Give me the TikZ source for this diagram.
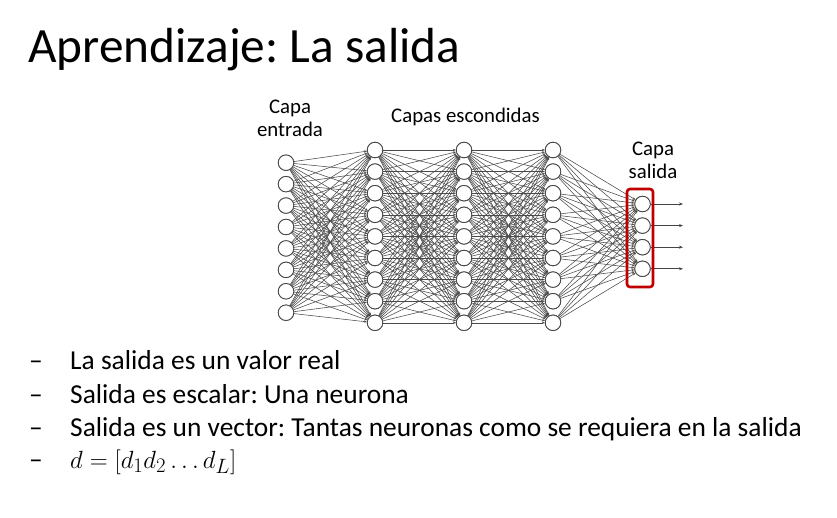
\documentclass[tikz,border=0pt]{standalone}
\usepackage{fontspec}
\setmainfont{Carlito}
\usetikzlibrary{arrows.meta}
\definecolor{boxred}{HTML}{C00000}
\definecolor{wire}{HTML}{4A4A4A}
\definecolor{ring}{HTML}{444444}
\frenchspacing
\begin{document}
\begin{tikzpicture}[x=1pt,y=-1pt,
  neuron/.style={circle,draw=ring,fill=white,line width=0.8pt,minimum size=15.5pt,inner sep=0pt},
  wireline/.style={draw=wire,line width=0.55pt,-{Stealth[length=3pt,width=2.4pt]}},
  outarrow/.style={draw=ring,line width=0.6pt,-{Stealth[length=4pt,width=3pt]}},
  redbox/.style={draw=boxred,line width=2.6pt,rounded corners=3pt,minimum width=26pt,minimum height=98pt,inner sep=0pt},
  lbl/.style={font=\fontsize{20.8}{22.5}\selectfont,align=center,inner sep=0pt},
  bullettext/.style={font=\fontsize{27.4}{30}\selectfont,anchor=base west,inner sep=0pt},
  dashmark/.style={font=\fontsize{27.4}{30}\selectfont,anchor=base west,inner sep=0pt}
]
\useasboundingbox (0,0) rectangle (837,518);
\fill[white] (0,0) rectangle (837,518);

% title
\node[font=\fontsize{49.3}{52}\selectfont,anchor=base west,inner sep=0pt] (title) at (28,63) {Aprendizaje: La salida};

% layers
\foreach \i in {0,...,7} \node[neuron] (a\i) at (286,{162.7+21.43*\i}) {};
\foreach \i in {0,...,8} {
  \node[neuron] (b\i) at (375,{150+21.6*\i}) {};
  \node[neuron] (c\i) at (464,{150+21.6*\i}) {};
  \node[neuron] (d\i) at (553,{150+21.6*\i}) {};
}
\foreach \i in {0,...,3} \node[neuron] (e\i) at (642.5,{204+21.6*\i}) {};

% fully connected wiring between consecutive layers
\foreach \i in {0,...,7} \foreach \j in {0,...,8} \draw[wireline] (a\i) -- (b\j);
\foreach \i in {0,...,8} \foreach \j in {0,...,8} \draw[wireline] (b\i) -- (c\j);
\foreach \i in {0,...,8} \foreach \j in {0,...,8} \draw[wireline] (c\i) -- (d\j);
\foreach \i in {0,...,8} \foreach \j in {0,...,3} \draw[wireline] (d\i) -- (e\j);

% redraw neurons on top of the wires
\foreach \i in {0,...,7} \node[neuron] at (a\i) {};
\foreach \i in {0,...,8} {\node[neuron] at (b\i) {}; \node[neuron] at (c\i) {}; \node[neuron] at (d\i) {};}
\foreach \i in {0,...,3} {
  \node[neuron] at (e\i) {};
  \coordinate (f\i) at (683,{204+21.6*\i});
  \draw[outarrow] (e\i) -- (f\i);
}

% output layer highlight
\node[redbox] (outbox) at (640,238) {};

% layer labels
\node[lbl,anchor=north] (lin) at (290,100) {Capa\\entrada};
\node[lbl,anchor=base] (lhid) at (465.5,123) {Capas escondidas};
\node[lbl,anchor=north] (lout) at (653,142) {Capa\\salida};

% bullet list
\node[dashmark] (m1) at (29,369) {–};
\node[bullettext] (t1) at (70,369) {La salida es un valor real};
\node[dashmark] (m2) at (29,403) {–};
\node[bullettext] (t2) at (70,403) {Salida es escalar: Una neurona};
\node[dashmark] (m3) at (29,436) {–};
\node[bullettext] (t3) at (70,436) {Salida es un vector: Tantas neuronas como se requiera en la salida};
\node[dashmark] (m4) at (29,468) {–};
\node[bullettext,font=\fontsize{30}{32}\selectfont] (t4) at (70,468) {$d=[d_1d_2\ldots d_L]$};
\end{tikzpicture}
\end{document}
